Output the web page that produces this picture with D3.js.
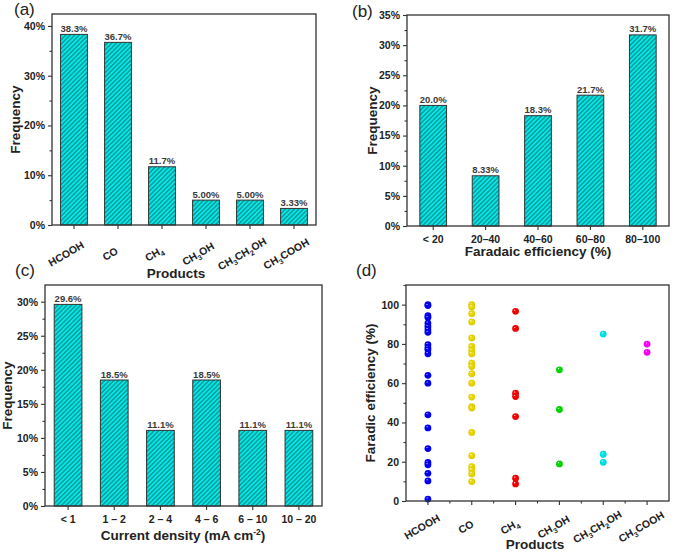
<!DOCTYPE html>
<html><head><meta charset="utf-8">
<script src="https://cdn.jsdelivr.net/npm/d3@7"></script>
<style>
body{margin:0;background:#fff;}
svg{display:block;font-family:"Liberation Sans",Arial,sans-serif;}
</style></head>
<body><svg id="chart" width="676" height="552"></svg>
<script>
// ---- data ----
const productCats = ["HCOOH","CO","CH4","CH3OH","CH3CH2OH","CH3COOH"];
const productFreq = [38.3, 36.7, 11.7, 5.00, 5.00, 3.33];
const productFreqLabels = ["38.3%","36.7%","11.7%","5.00%","5.00%","3.33%"];
const productTicks = [0,10,20,30,40];

const feCats = ["< 20","20\u201340","40\u201360","60\u201380","80\u2013100"];
const feFreq = [20.0, 8.33, 18.3, 21.7, 31.7];
const feFreqLabels = ["20.0%","8.33%","18.3%","21.7%","31.7%"];
const feTicks = [0,5,10,15,20,25,30,35];

const cdCats = ["< 1","1 \u2013 2","2 \u2013 4","4 \u2013 6","6 \u2013 10","10 \u2013 20"];
const cdFreq = [29.6, 18.5, 11.1, 18.5, 11.1, 11.1];
const cdFreqLabels = ["29.6%","18.5%","11.1%","18.5%","11.1%","11.1%"];
const cdTicks = [0,5,10,15,20,25,30];

const feHCOOH = [100, 99.5, 94.4, 93.5, 90.6, 88.9, 87.2, 85.9, 79.6, 78, 77, 75, 64, 60, 43.9, 37.2, 26.7, 19.6, 18.4, 14.1, 10.2, 1];
const feCO = [100, 98.8, 95.4, 91.2, 83, 78.7, 76.7, 75, 70.2, 68.5, 64.8, 60, 52.9, 48.1, 47.3, 34.9, 23.1, 17.5, 15.8, 13.8, 9.9];
const feCH4 = [96.6, 87.9, 54.9, 53.2, 43, 11.6, 8.7];
const feCH3OH = [66.8, 46.6, 18.9];
const feCH3CH2OH = [85, 23.8, 19.7];
const feCH3COOH = [79.9, 75.7];
const scatterTicks = [0,20,40,60,80,100];

// ---- helpers ----
const svg = d3.select("#chart");
const FONT = '"Liberation Sans",Arial,sans-serif';
const defs = svg.append("defs");
const pat = defs.append("pattern").attr("id","hatch").attr("patternUnits","userSpaceOnUse")
  .attr("width",3.2).attr("height",3.2).attr("patternTransform","rotate(45)");
pat.append("rect").attr("width",3.2).attr("height",3.2).attr("fill","#00eaea");
pat.append("line").attr("x1",0.8).attr("y1",-1).attr("x2",0.8).attr("y2",4.2)
  .attr("stroke","#1d4a4a").attr("stroke-width",0.75);

function measure(str, size){
  const t = svg.append("text").attr("font-family",FONT).attr("font-weight","bold")
    .attr("font-size",size).attr("x",-999).attr("y",-999).text(str);
  const w = t.node().getComputedTextLength();
  t.remove();
  return w;
}

function frame(g, L,T,R,B){
  g.append("rect").attr("x",L).attr("y",T).attr("width",R-L).attr("height",B-T)
   .attr("fill","none").attr("stroke","#333").attr("stroke-width",1.3);
}

function styleAxis(a){
  a.select(".domain").remove();
  a.selectAll("line").attr("stroke","#333").attr("stroke-width",1.1);
  a.selectAll("text").attr("font-family",FONT).attr("font-weight","bold").attr("font-size",10.5).attr("fill","#222");
}

function yAxes(g, y, L, ticks, fmt){
  const step = ticks[1]-ticks[0];
  const minors = ticks.slice(0,-1).map(t=>t+step/2);
  const top = y.domain()[1];
  if (ticks[ticks.length-1]+step/2 <= top) minors.push(ticks[ticks.length-1]+step/2);
  const a = g.append("g").attr("transform",`translate(${L},0)`)
    .call(d3.axisLeft(y).tickValues(ticks).tickSize(4).tickPadding(3).tickFormat(fmt));
  styleAxis(a);
  const m = g.append("g").attr("transform",`translate(${L},0)`)
    .call(d3.axisLeft(y).tickValues(minors).tickSize(2.5).tickFormat(""));
  styleAxis(m);
}

function panelLabel(txt,x,y){
  svg.append("text").attr("x",x).attr("y",y).attr("font-size",17).attr("font-family",FONT).attr("fill","#222").text(txt);
}

// rotated chemical labels, built from separate text chunks (no tspans)
const SZ = 10.5, SUB = 7.2;
function rotatedLabels(g, cats, xFn, yPos){
  cats.forEach(d=>{
    const parts = d.match(/[A-Za-z]+|\d+/g).map(p=>({p, sub:/\d/.test(p)}));
    parts.forEach(o=>{ o.w = measure(o.p, o.sub?SUB:SZ); });
    const total = d3.sum(parts, o=>o.w);
    const lg = g.append("g").attr("transform",`translate(${xFn(d)},${yPos}) rotate(-30)`);
    let u = -total/2;
    parts.forEach(o=>{
      lg.append("text").attr("x",u).attr("y",o.sub?3:0)
        .attr("font-size",o.sub?SUB:SZ).attr("font-weight","bold")
        .attr("font-family",FONT).attr("fill","#222").text(o.p);
      u += o.w;
    });
  });
}

function barPanel(cfg){
  const {L,T,R,B,cats,vals,labels,ticks,ymax,pad} = cfg;
  const g = svg.append("g");
  const x = d3.scaleBand().domain(cats).range([L,R]).paddingInner(pad).paddingOuter(pad/2);
  const y = d3.scaleLinear().domain([0,ymax]).range([B,T]);
  g.selectAll("rect.bar").data(vals).join("rect").attr("class","bar")
    .attr("x",(d,i)=>x(cats[i])).attr("y",d=>y(d))
    .attr("width",x.bandwidth()).attr("height",d=>B-y(d))
    .attr("fill","url(#hatch)").attr("stroke","#333").attr("stroke-width",1);
  g.selectAll("text.vl").data(vals).join("text").attr("class","vl")
    .attr("x",(d,i)=>x(cats[i])+x.bandwidth()/2).attr("y",d=>y(d)-2.5)
    .attr("text-anchor","middle").attr("font-size",9.5).attr("font-family",FONT)
    .attr("font-weight","bold").attr("fill","#3a3a3a").text((d,i)=>labels[i]);
  yAxes(g,y,L,ticks,d=>d+"%");
  const xa = g.append("g").attr("transform",`translate(0,${B})`)
    .call(d3.axisBottom(x).tickSize(4).tickFormat(""));
  styleAxis(xa);
  frame(g,L,T,R,B);
  return {g,x,y};
}

// ---- (a) ----
const A = barPanel({L:52,T:14,R:316,B:225,cats:productCats,vals:productFreq,labels:productFreqLabels,ticks:productTicks,ymax:42.4,pad:0.39});
rotatedLabels(A.g, productCats, d=>A.x(d)+A.x.bandwidth()/2-6, 257);
A.g.append("text").attr("x",176).attr("y",278).attr("text-anchor","middle")
  .attr("font-size",13.5).attr("font-weight","bold").attr("font-family",FONT).attr("fill","#222").text("Products");
A.g.append("text").attr("transform",`translate(20,${(14+225)/2}) rotate(-90)`).attr("text-anchor","middle")
  .attr("font-size",13.5).attr("font-weight","bold").attr("font-family",FONT).attr("fill","#222").text("Frequency");
panelLabel("(a)",14,15);

// ---- (b) ----
const Bp = barPanel({L:407,T:15,R:669,B:226,cats:feCats,vals:feFreq,labels:feFreqLabels,ticks:feTicks,ymax:35,pad:0.49});
Bp.g.selectAll("text.xl").data(feCats).join("text").attr("class","xl")
  .attr("x",d=>Bp.x(d)+Bp.x.bandwidth()/2).attr("y",243)
  .attr("text-anchor","middle").attr("font-size",10.5).attr("font-weight","bold")
  .attr("font-family",FONT).attr("fill","#222").text(d=>d);
Bp.g.append("text").attr("x",538).attr("y",256).attr("text-anchor","middle")
  .attr("font-size",13.5).attr("font-weight","bold").attr("font-family",FONT).attr("fill","#222").text("Faradaic efficiency (%)");
Bp.g.append("text").attr("transform",`translate(377,${(15+226)/2}) rotate(-90)`).attr("text-anchor","middle")
  .attr("font-size",13.5).attr("font-weight","bold").attr("font-family",FONT).attr("fill","#222").text("Frequency");
panelLabel("(b)",352,17);

// ---- (c) ----
const C = barPanel({L:45,T:285,R:322,B:506,cats:cdCats,vals:cdFreq,labels:cdFreqLabels,ticks:cdTicks,ymax:32.45,pad:0.4});
C.g.selectAll("text.xl").data(cdCats).join("text").attr("class","xl")
  .attr("x",d=>C.x(d)+C.x.bandwidth()/2).attr("y",523)
  .attr("text-anchor","middle").attr("font-size",10.5).attr("font-weight","bold")
  .attr("font-family",FONT).attr("fill","#222").text(d=>d);
const ct = C.g.append("text").attr("x",183).attr("y",540).attr("text-anchor","middle")
  .attr("font-size",13.5).attr("font-weight","bold").attr("font-family",FONT).attr("fill","#222");
ct.append("tspan").text("Current density (mA cm");
ct.append("tspan").attr("font-size",8.5).attr("dy",-5).text("-2");
ct.append("tspan").attr("dy",5).text(")");
C.g.append("text").attr("transform",`translate(12,${(285+506)/2}) rotate(-90)`).attr("text-anchor","middle")
  .attr("font-size",13.5).attr("font-weight","bold").attr("font-family",FONT).attr("fill","#222").text("Frequency");
panelLabel("(c)",15,276);

// ---- (d) ----
(function(){
  const L=406,T=285,R=669,B=501;
  const g = svg.append("g");
  const x = d3.scaleBand().domain(productCats).range([L,R]);
  const y = d3.scaleLinear().domain([0,110]).range([B,T]);
  const series = [
    {name:"HCOOH",vals:feHCOOH,color:"#0000ff"},
    {name:"CO",vals:feCO,color:"#f0dc00"},
    {name:"CH4",vals:feCH4,color:"#ff0000"},
    {name:"CH3OH",vals:feCH3OH,color:"#00e000"},
    {name:"CH3CH2OH",vals:feCH3CH2OH,color:"#00e8f0"},
    {name:"CH3COOH",vals:feCH3COOH,color:"#ff00ff"}
  ];
  series.forEach((s,i)=>{
    const c = d3.color(s.color);
    const gr = defs.append("radialGradient").attr("id","sph"+i).attr("cx","50%").attr("cy","50%").attr("r","55%")
      .attr("fx","35%").attr("fy","30%");
    gr.append("stop").attr("offset","0%").attr("stop-color","#ffffff");
    gr.append("stop").attr("offset","25%").attr("stop-color",c.formatHex());
    gr.append("stop").attr("offset","100%").attr("stop-color",c.darker(0.3).formatHex());
    g.selectAll(null).data(s.vals).join("circle")
      .attr("cx",x(s.name)+x.bandwidth()/2).attr("cy",d=>y(d)).attr("r",3.4)
      .attr("fill",`url(#sph${i})`);
  });
  yAxes(g,y,L,scatterTicks,d=>d);
  const xa = g.append("g").attr("transform",`translate(0,${B})`)
    .call(d3.axisBottom(x).tickSize(4).tickFormat(""));
  styleAxis(xa);
  const bounds = productCats.slice(1).map(c=>x(c));
  bounds.forEach(b=>g.append("line").attr("x1",b).attr("x2",b).attr("y1",B).attr("y2",B+2.5).attr("stroke","#333").attr("stroke-width",1.1));
  rotatedLabels(g, productCats, d=>x(d)+x.bandwidth()/2-4, 530);
  frame(g,L,T,R,B);
  g.append("text").attr("x",535).attr("y",549).attr("text-anchor","middle")
    .attr("font-size",13.5).attr("font-weight","bold").attr("font-family",FONT).attr("fill","#222").text("Products");
  g.append("text").attr("transform",`translate(375,${(T+B)/2}) rotate(-90)`).attr("text-anchor","middle")
    .attr("font-size",13.5).attr("font-weight","bold").attr("font-family",FONT).attr("fill","#222").text("Faradic efficiency (%)");
  panelLabel("(d)",356,276);
})();
</script></body></html>
